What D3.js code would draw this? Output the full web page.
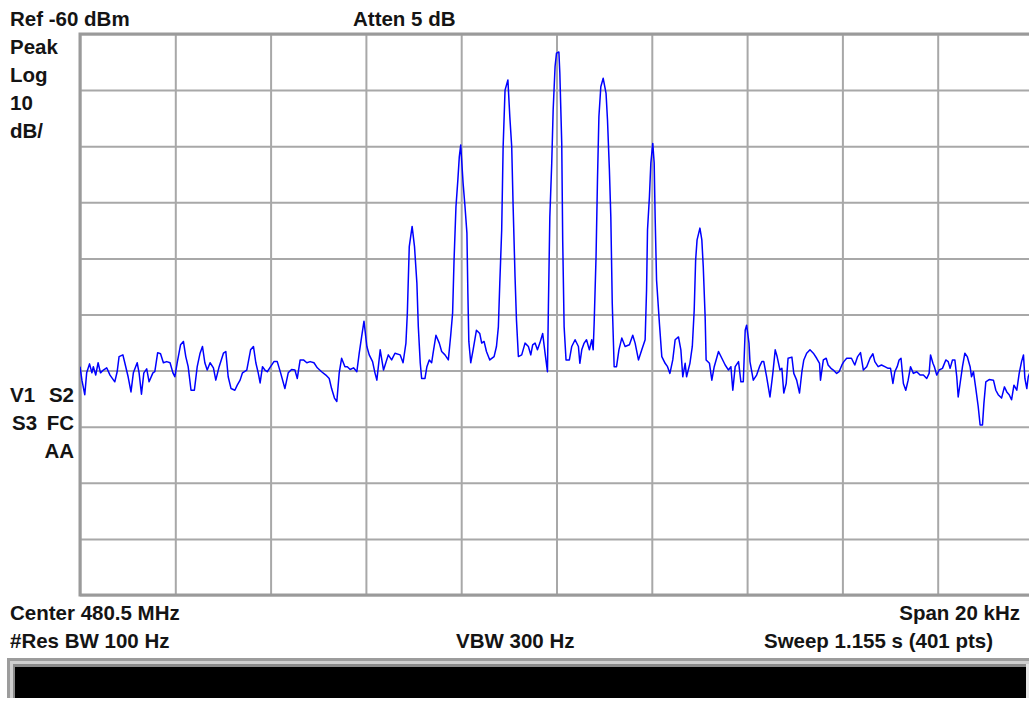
<!DOCTYPE html>
<html>
<head>
<meta charset="utf-8">
<script src="https://cdn.jsdelivr.net/npm/d3@7"></script>
<style>
  html, body { margin: 0; padding: 0; background: #fff; }
  svg { display: block; }
  text { font-family: "Liberation Sans", Arial, sans-serif; font-weight: bold; fill: #141414; }
</style>
</head>
<body>
<svg id="chart" width="1029" height="701"></svg>
<script>
// ---- Data ----
const centerMHz = 480.5;
const spanKHz = 20;
const refLevel = -60;      // dBm, top of screen
const dbPerDiv = 10;
const divisions = 10;

const freqKHz = [
-10.00,-9.96,-9.90,-9.86,-9.80,-9.75,-9.72,-9.67,-9.62,-9.57,-9.51,-9.44,-9.37,-9.27,-9.22,-9.18,-9.10,-9.06,-8.99,-8.93,
-8.88,-8.80,-8.76,-8.71,-8.66,-8.60,-8.55,-8.47,-8.43,-8.37,-8.31,-8.25,-8.18,-8.11,-8.05,-8.01,-7.96,-7.89,-7.83,-7.78,
-7.73,-7.67,-7.60,-7.54,-7.48,-7.43,-7.38,-7.33,-7.27,-7.20,-7.15,-7.08,-6.99,-6.94,-6.89,-6.83,-6.75,-6.70,-6.64,-6.59,
-6.50,-6.42,-6.36,-6.31,-6.26,-6.22,-6.17,-6.12,-6.07,-6.00,-5.93,-5.86,-5.79,-5.70,-5.63,-5.56,-5.49,-5.44,-5.38,-5.31,
-5.24,-5.17,-5.09,-5.02,-4.93,-4.84,-4.77,-4.72,-4.66,-4.61,-4.56,-4.51,-4.44,-4.39,-4.33,-4.26,-4.19,-4.14,-4.09,-4.04,
-3.98,-3.93,-3.86,-3.81,-3.77,-3.70,-3.63,-3.53,-3.46,-3.39,-3.28,-3.22,-3.16,-3.13,-3.09,-3.03,-2.98,-2.93,-2.90,-2.86,
-2.83,-2.76,-2.72,-2.67,-2.62,-2.59,-2.53,-2.46,-2.41,-2.34,-2.27,-2.22,-2.18,-2.15,-2.11,-2.07,-2.04,-2.01,-1.96,-1.92,
-1.88,-1.86,-1.84,-1.80,-1.75,-1.68,-1.61,-1.57,-1.52,-1.47,-1.40,-1.31,-1.26,-1.22,-1.19,-1.15,-1.12,-1.08,-1.02,-0.98,
-0.94,-0.91,-0.87,-0.84,-0.80,-0.73,-0.66,-0.59,-0.54,-0.50,-0.45,-0.40,-0.35,-0.29,-0.24,-0.19,-0.17,-0.14,-0.10,-0.07,
-0.03,0.00,0.05,0.07,0.11,0.13,0.16,0.20,0.27,0.32,0.39,0.46,0.49,0.53,0.58,0.63,0.69,0.74,0.77,0.79,
0.83,0.86,0.89,0.93,0.98,1.04,1.07,1.11,1.14,1.17,1.21,1.26,1.31,1.37,1.44,1.53,1.60,1.65,1.72,1.79,
1.86,1.89,1.91,1.95,1.98,2.02,2.05,2.07,2.10,2.16,2.21,2.28,2.33,2.38,2.44,2.49,2.56,2.61,2.65,2.70,
2.73,2.80,2.85,2.89,2.92,2.95,3.01,3.05,3.08,3.12,3.14,3.21,3.26,3.31,3.40,3.47,3.54,3.61,3.66,3.70,
3.75,3.82,3.87,3.92,3.96,3.99,4.04,4.06,4.13,4.20,4.26,4.31,4.35,4.41,4.48,4.54,4.59,4.63,4.69,4.73,
4.77,4.82,4.86,4.94,4.98,5.04,5.10,5.15,5.19,5.25,5.32,5.39,5.46,5.52,5.54,5.60,5.66,5.70,5.76,5.81,
5.88,5.93,5.99,6.03,6.09,6.19,6.26,6.32,6.38,6.44,6.51,6.58,6.64,6.68,6.75,6.82,6.89,6.96,7.01,7.06,
7.10,7.15,7.19,7.23,7.28,7.33,7.38,7.43,7.49,7.56,7.63,7.70,7.77,7.82,7.85,7.90,7.93,7.98,8.03,8.10,
8.17,8.22,8.26,8.31,8.36,8.40,8.43,8.47,8.52,8.57,8.62,8.68,8.71,8.75,8.80,8.85,8.89,8.94,8.97,9.01,
9.08,9.17,9.22,9.27,9.34,9.40,9.45,9.50,9.55,9.60,9.66,9.71,9.76,9.80,9.83,9.87,9.90,9.95,10.00
];

const levelDBm = [
-119.3,-121.7,-124.3,-120.4,-118.8,-120.4,-119.3,-120.8,-118.6,-120.4,-119.9,-119.5,-120.8,-122.0,-120.2,-117.5,-117.2,-118.6,-121.1,-123.8,
-120.4,-118.6,-120.4,-124.2,-120.4,-119.7,-122.0,-120.4,-120.2,-116.8,-117.0,-118.6,-118.4,-118.6,-120.4,-121.1,-118.6,-115.4,-114.8,-117.5,
-119.3,-123.5,-123.5,-119.3,-116.9,-115.7,-118.6,-119.9,-118.6,-119.5,-121.7,-119.3,-116.9,-116.6,-121.1,-123.2,-123.5,-122.6,-121.7,-120.4,
-119.9,-116.3,-115.7,-118.6,-120.4,-122.2,-119.3,-119.9,-120.2,-119.3,-118.4,-118.4,-120.4,-123.2,-120.4,-119.8,-119.9,-121.4,-118.1,-118.1,
-118.6,-118.4,-118.6,-119.5,-120.2,-120.8,-121.4,-123.2,-124.9,-125.5,-120.4,-117.8,-119.3,-119.3,-119.8,-119.5,-120.2,-116.9,-114.0,-111.2,
-115.7,-117.2,-118.4,-120.4,-121.7,-116.3,-119.9,-117.2,-118.1,-116.9,-117.2,-118.6,-115.1,-109.7,-97.9,-94.3,-97.9,-104.4,-112.2,-118.6,
-121.4,-121.4,-119.3,-118.1,-118.6,-116.9,-113.7,-115.1,-116.6,-117.2,-118.1,-113.7,-109.7,-100.3,-90.8,-86.0,-81.9,-79.8,-86.6,-90.8,
-95.5,-106.2,-114.8,-118.6,-116.3,-112.8,-113.4,-115.1,-114.8,-116.6,-118.1,-117.5,-115.7,-112.2,-104.4,-94.9,-80.1,-70.0,-68.2,-74.7,
-80.1,-90.8,-103.3,-111.0,-117.5,-117.2,-115.1,-115.7,-117.2,-115.4,-115.1,-116.3,-115.1,-113.4,-116.9,-120.2,-108.6,-92.6,-83.0,-73.5,
-65.8,-63.4,-63.2,-67.0,-79.5,-96.7,-112.2,-118.1,-118.1,-115.7,-114.5,-115.7,-118.7,-116.3,-115.1,-114.5,-116.3,-114.5,-116.3,-111.6,
-99.7,-86.0,-74.7,-69.4,-67.9,-70.6,-75.3,-84.2,-92.6,-108.0,-119.3,-119.3,-116.3,-114.2,-115.7,-115.4,-113.7,-115.1,-118.1,-116.3,
-114.5,-105.6,-94.9,-89.0,-83.0,-79.5,-83.0,-92.6,-103.9,-111.6,-117.5,-118.7,-119.3,-120.5,-118.1,-114.5,-114.0,-116.3,-121.1,-118.7,
-121.1,-118.7,-115.7,-109.2,-100.3,-96.7,-94.6,-96.7,-101.5,-110.6,-118.1,-118.7,-121.7,-119.3,-116.6,-117.8,-119.0,-119.9,-119.3,-123.5,
-119.3,-118.4,-122.0,-122.0,-112.8,-111.9,-115.1,-118.4,-121.7,-120.8,-119.3,-118.4,-118.4,-121.1,-124.7,-120.5,-116.3,-117.5,-119.9,-119.6,
-124.0,-122.3,-117.8,-117.6,-120.5,-121.7,-124.0,-120.2,-118.1,-116.9,-116.3,-116.9,-117.8,-118.7,-121.7,-118.1,-117.8,-119.0,-119.6,-119.9,
-120.5,-120.2,-119.0,-118.4,-117.8,-117.8,-119.0,-117.5,-116.8,-119.9,-119.3,-117.8,-117.0,-118.4,-119.3,-119.0,-119.3,-119.6,-119.6,-122.3,
-120.2,-119.3,-118.1,-117.8,-122.3,-123.5,-121.7,-119.3,-120.5,-120.2,-120.8,-120.8,-121.4,-120.5,-117.2,-118.7,-119.3,-120.8,-119.9,-119.6,
-118.1,-118.4,-119.6,-118.1,-118.1,-121.1,-124.7,-122.3,-119.3,-116.9,-117.5,-119.3,-121.1,-120.2,-123.2,-126.4,-129.7,-129.7,-125.8,-122.0,
-121.6,-121.7,-123.5,-124.3,-124.9,-122.9,-123.8,-124.3,-125.2,-122.6,-123.5,-120.5,-118.4,-117.2,-121.4,-123.2,-121.1,-120.0,-119.5
];

const headerLabels = ["Ref -60 dBm", "Atten 5 dB"];
const leftLabels = ["Peak", "Log", "10", "dB/"];
const footerLine1 = ["Center 480.5 MHz", "Span 20 kHz"];
const footerLine2 = ["#Res BW 100 Hz", "VBW 300 Hz", "Sweep 1.155 s (401 pts)"];

// ---- Layout ----
const svg = d3.select("#chart");
const plot = { left: 80, top: 34, right: 1033, bottom: 595 };

const x = d3.scaleLinear().domain([-spanKHz / 2, spanKHz / 2]).range([plot.left, plot.right]);
const y = d3.scaleLinear().domain([refLevel - dbPerDiv * divisions, refLevel]).range([plot.bottom, plot.top]);

const xGrid = d3.range(divisions + 1).map(i => -spanKHz / 2 + i * spanKHz / divisions);
const yGrid = d3.range(divisions + 1).map(i => refLevel - i * dbPerDiv);

const g = svg.append("g");

// grid via axes
const xAxis = d3.axisBottom(x).tickValues(xGrid).tickSize(-(plot.bottom - plot.top)).tickFormat("");
const yAxis = d3.axisLeft(y).tickValues(yGrid).tickSize(-(plot.right - plot.left)).tickFormat("");

g.append("g").attr("transform", `translate(0,${plot.bottom})`).call(xAxis)
  .call(a => a.select(".domain").remove())
  .selectAll("line").attr("stroke", "#a8a8a8").attr("stroke-width", 2);
g.append("g").attr("transform", `translate(${plot.left},0)`).call(yAxis)
  .call(a => a.select(".domain").remove())
  .selectAll("line").attr("stroke", "#a8a8a8").attr("stroke-width", 2);

// frame
g.append("rect")
  .attr("x", plot.left).attr("y", plot.top)
  .attr("width", plot.right - plot.left).attr("height", plot.bottom - plot.top)
  .attr("fill", "none").attr("stroke", "#9a9a9a").attr("stroke-width", 3);

// trace
svg.append("clipPath").attr("id", "clip").append("rect")
  .attr("x", plot.left).attr("y", plot.top)
  .attr("width", plot.right - plot.left).attr("height", plot.bottom - plot.top);

const pts = freqKHz.map((f, i) => [f, levelDBm[i]]);
const line = d3.line().x(d => x(d[0])).y(d => y(d[1]));
svg.append("path").datum(pts)
  .attr("clip-path", "url(#clip)")
  .attr("d", line)
  .attr("fill", "none").attr("stroke", "#0000ff").attr("stroke-width", 1.5)
  .attr("stroke-linejoin", "round");

// ---- Texts ----
const fs = "20.5px";
function txt(s, xx, yy, anchor) {
  svg.append("text").attr("x", xx).attr("y", yy)
    .attr("text-anchor", anchor || "start").style("font-size", fs).text(s);
}
txt(headerLabels[0], 10, 26);
txt(headerLabels[1], 353, 26);
leftLabels.forEach((s, i) => txt(s, 10, 54 + i * 28));
txt("V1", 10, 402); txt("S2", 74, 402, "end");
txt("S3", 12, 430); txt("FC", 74, 430, "end");
txt("AA", 74, 458, "end");
txt(footerLine1[0], 10, 620);
txt(footerLine1[1], 1020, 620, "end");
txt(footerLine2[0], 10, 648);
txt(footerLine2[1], 456, 648);
txt(footerLine2[2], 993, 648, "end");

// ---- Status bar ----
svg.append("rect").attr("x", 7).attr("y", 658).attr("width", 1022).attr("height", 40).attr("fill", "#9c9c9c");
svg.append("rect").attr("x", 10).attr("y", 661).attr("width", 1019).attr("height", 37).attr("fill", "#cfcfcf");
svg.append("rect").attr("x", 13).attr("y", 664).attr("width", 1016).attr("height", 34).attr("fill", "#8a8a8a");
svg.append("rect").attr("x", 15).attr("y", 667).attr("width", 1011).attr("height", 31).attr("fill", "#000");
svg.append("rect").attr("x", 1026).attr("y", 664).attr("width", 3).attr("height", 34).attr("fill", "#e6e6e6");
</script>
</body>
</html>
